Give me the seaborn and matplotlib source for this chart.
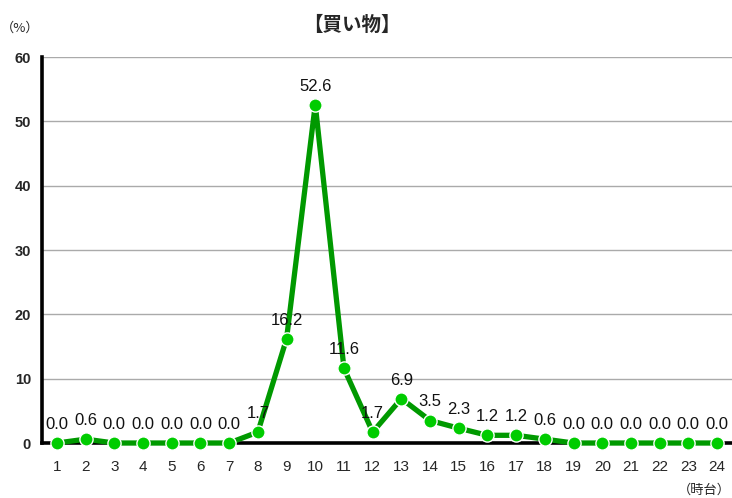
import seaborn as sns
import matplotlib.pyplot as plt
import pandas as pd

# データ
hours = list(range(1, 25))
values = [0.0, 0.6, 0.0, 0.0, 0.0, 0.0, 0.0, 1.7, 16.2, 52.6, 11.6, 1.7,
          6.9, 3.5, 2.3, 1.2, 1.2, 0.6, 0.0, 0.0, 0.0, 0.0, 0.0, 0.0]
y_ticks = [0, 10, 20, 30, 40, 50, 60]

df = pd.DataFrame({"時台": hours, "割合": values})

sns.set_style("white")
plt.rcParams['font.family'] = ['Liberation Sans', 'Noto Sans CJK JP', 'DejaVu Sans']

fig = plt.figure(figsize=(7.32, 4.98), dpi=100)
ax = fig.add_axes([0.0574, 0.1104, 0.9426, 0.7751])

sns.lineplot(data=df, x="時台", y="割合", ax=ax, color="#009900", linewidth=3.8,
             marker="o", markersize=9.5, markerfacecolor="#00CC00",
             markeredgecolor="white", markeredgewidth=1.0, zorder=3, clip_on=False)

for h, v in zip(hours, values):
    ax.annotate(f"{v:.1f}", (h, v), textcoords="offset points", xytext=(0, 8),
                ha="center", va="bottom", fontsize=12, color="#111111", zorder=4)

ax.set_xlim(0.48, 24.52)
ax.set_ylim(0, 60)
ax.set_xticks(hours)
ax.set_yticks(y_ticks)
ax.set_xticklabels([str(h) for h in hours], fontsize=11)
ax.set_yticklabels([str(t) for t in y_ticks], fontsize=10.5, fontweight="bold")
ax.grid(axis="y", color="#AAAAAA", linewidth=1.0)
ax.set_axisbelow(True)
ax.set_xlabel("")
ax.set_ylabel("")

for s in ["top", "right"]:
    ax.spines[s].set_visible(False)
for s in ["left", "bottom"]:
    ax.spines[s].set_color("black")
    ax.spines[s].set_linewidth(2.6)

ax.tick_params(axis="y", direction="out", length=5, width=2.2, color="black", pad=3)
ax.tick_params(axis="x", direction="out", length=5, width=2.2, color="black", pad=7)

fig.text(0.481, 0.948, "【買い物】", ha="center", va="center", fontsize=14,
         fontweight="bold", family=['Noto Sans CJK JP', 'DejaVu Sans'])
fig.text(0.028, 0.944, "（%）", ha="center", va="center", fontsize=9.5,
         family=['Noto Sans CJK JP', 'DejaVu Sans'])
fig.text(0.962, 0.016, "（時台）", ha="center", va="center", fontsize=9.5,
         family=['Noto Sans CJK JP', 'DejaVu Sans'])

fig.savefig("out.png", dpi=100)
